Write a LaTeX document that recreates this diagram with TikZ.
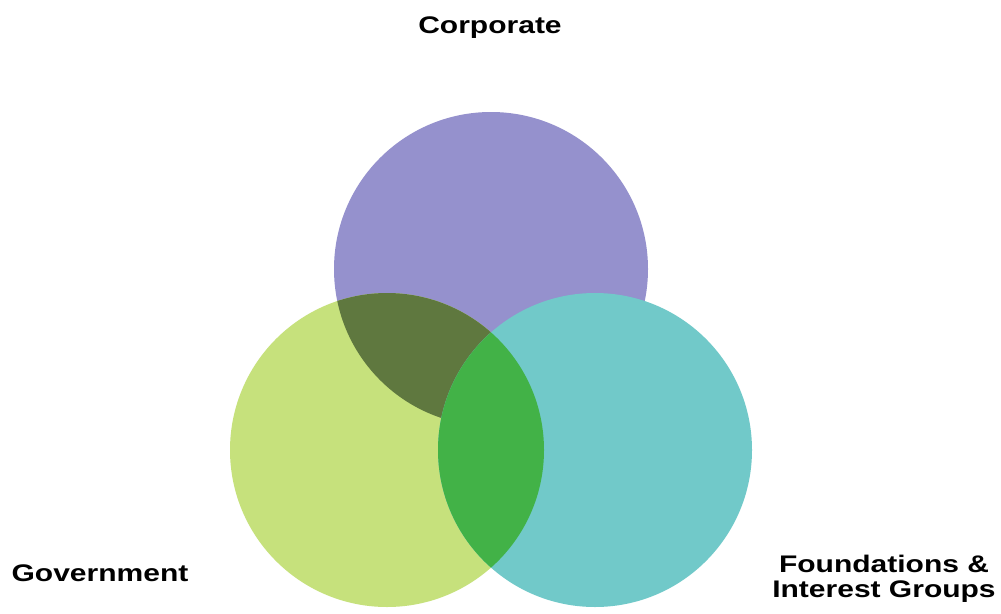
\documentclass[tikz,border=0pt]{standalone}
\usepackage{fontspec}
\setmainfont{Liberation Sans}
\definecolor{corp}{HTML}{9591CD}
\definecolor{gov}{HTML}{C6E17C}
\definecolor{found}{HTML}{71C9C9}
\definecolor{corpgov}{HTML}{5F783F}
\definecolor{govfound}{HTML}{42B247}
\begin{document}
\begin{tikzpicture}[x=1pt,y=-1pt,
  lbl/.style={font=\fontsize{24}{25}\selectfont\bfseries, align=center, inner sep=0pt}]
\useasboundingbox (0,0) rectangle (1001,613);
\fill[white] (0,0) rectangle (1001,613);
\coordinate (c) at (491,269);
\coordinate (g) at (387,450);
\coordinate (f) at (595,450);
% circles
\fill[corp] (c) circle (157pt);
\fill[gov] (g) circle (157pt);
\begin{scope}
  \clip (g) circle (157pt);
  \fill[corpgov] (c) circle (157pt);
\end{scope}
\fill[found] (f) circle (157pt);
\begin{scope}
  \clip (f) circle (157pt);
  \fill[govfound] (g) circle (157pt);
\end{scope}
% labels
\node[lbl, anchor=base] (lc) at (490,33) {\scalebox{1.25}[1]{Corporate}};
\node[lbl, anchor=base] (lg) at (100,581) {\scalebox{1.25}[1]{Government}};
\node[lbl, anchor=base] (lf1) at (884,572) {\scalebox{1.25}[1]{Foundations \&}};
\node[lbl, anchor=base] (lf2) at (884,597) {\scalebox{1.25}[1]{Interest Groups}};
\end{tikzpicture}
\end{document}
